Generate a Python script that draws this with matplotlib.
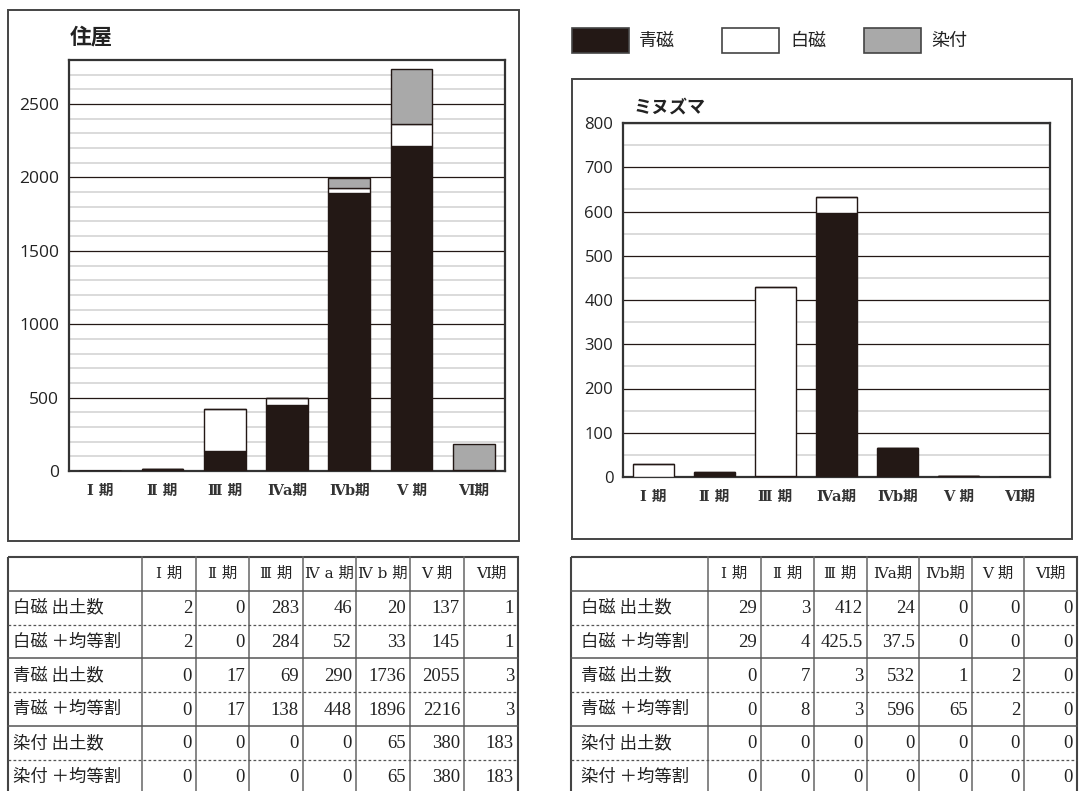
import matplotlib
matplotlib.use('Agg')
import matplotlib.pyplot as plt
from matplotlib.patches import Rectangle
import numpy as np

plt.rcParams['font.family'] = ['Noto Sans CJK JP', 'DejaVu Sans']

# ---------------- data ----------------
chart_period_labels = ['Ⅰ 期', 'Ⅱ 期', 'Ⅲ 期', 'Ⅳa期', 'Ⅳb期', 'Ⅴ 期', 'Ⅵ期']
left_table_headers = ['Ⅰ 期', 'Ⅱ 期', 'Ⅲ 期', 'Ⅳ a 期', 'Ⅳ b 期', 'Ⅴ 期', 'Ⅵ期']
right_table_headers = ['Ⅰ 期', 'Ⅱ 期', 'Ⅲ 期', 'Ⅳa期', 'Ⅳb期', 'Ⅴ 期', 'Ⅵ期']
series_names = ['青磁', '白磁', '染付']
row_labels = ['白磁 出土数', '白磁 ＋均等割', '青磁 出土数', '青磁 ＋均等割', '染付 出土数', '染付 ＋均等割']
left_title = '住屋'
right_title = 'ミヌズマ'

house_white_count = [2, 0, 283, 46, 20, 137, 1]
house_white_eq = [2, 0, 284, 52, 33, 145, 1]
house_celadon_count = [0, 17, 69, 290, 1736, 2055, 3]
house_celadon_eq = [0, 17, 138, 448, 1896, 2216, 3]
house_sometsuke_count = [0, 0, 0, 0, 65, 380, 183]
house_sometsuke_eq = [0, 0, 0, 0, 65, 380, 183]

mizuma_white_count = [29, 3, 412, 24, 0, 0, 0]
mizuma_white_eq = [29, 4, 425.5, 37.5, 0, 0, 0]
mizuma_celadon_count = [0, 7, 3, 532, 1, 2, 0]
mizuma_celadon_eq = [0, 8, 3, 596, 65, 2, 0]
mizuma_sometsuke_count = [0, 0, 0, 0, 0, 0, 0]
mizuma_sometsuke_eq = [0, 0, 0, 0, 0, 0, 0]

# ---------------- style ----------------
W, H = 1088, 791
BLACK = '#231815'
GRAY = '#a9a9a9'
SERIF_CJK = ['DejaVu Serif', 'Noto Sans CJK JP']

fig = plt.figure(figsize=(W / 100, H / 100), dpi=100)
ov = fig.add_axes([0, 0, 1, 1])
ov.set_xlim(0, W)
ov.set_ylim(H, 0)
ov.axis('off')


def fig_axes(l, t, r, b):
    return fig.add_axes([l / W, 1 - b / H, (r - l) / W, (b - t) / H])


def draw_chart(ax, celadon, white, sometsuke, ymax, ytop_tick, major, minor, fs_y):
    x = np.arange(len(chart_period_labels))
    c = np.array(celadon, float)
    w = np.array(white, float)
    s = np.array(sometsuke, float)
    kw = dict(width=0.67, edgecolor=BLACK, linewidth=1.0, zorder=3)
    ax.bar(x, c, color=BLACK, **kw)
    ax.bar(x, w, bottom=c, color='white', **kw)
    ax.bar(x, s, bottom=c + w, color=GRAY, **kw)
    ax.set_xlim(-0.5, len(x) - 0.5)
    ax.set_ylim(0, ymax)
    ax.set_yticks(np.arange(0, ytop_tick + 1, major))
    ax.set_yticks(np.arange(0, ymax + 1, minor), minor=True)
    ax.yaxis.grid(True, which='minor', color='#d4d4d4', linewidth=1.2, zorder=0)
    ax.yaxis.grid(True, which='major', color=BLACK, linewidth=0.9, zorder=1)
    ax.set_axisbelow(True)
    ax.set_xticks(x)
    ax.set_xticklabels(chart_period_labels, fontsize=10.5, fontweight='bold', color='#333333',
                       family=SERIF_CJK)
    for lab in ax.get_yticklabels():
        lab.set_family(['Open Sans', 'DejaVu Sans'])
    ax.tick_params(axis='y', which='both', length=0, labelsize=fs_y, pad=7, colors='#222222')
    ax.tick_params(axis='x', which='both', length=0, pad=9)
    for sp in ax.spines.values():
        sp.set_color('#333333')
        sp.set_linewidth(1.6)


# outer frames
ov.add_patch(Rectangle((7.5, 10), 511, 531, fill=False, edgecolor='#444444', lw=1.4))
ov.add_patch(Rectangle((572, 79), 500, 460, fill=False, edgecolor='#444444', lw=1.4))

# charts
axL = fig_axes(69, 60, 505, 471)
draw_chart(axL, house_celadon_eq, house_white_eq, house_sometsuke_eq, 2800, 2500, 500, 100, 12.5)
axR = fig_axes(623, 123, 1050, 477)
draw_chart(axR, mizuma_celadon_eq, mizuma_white_eq, mizuma_sometsuke_eq, 800, 800, 100, 50, 12)

ov.text(70, 37, left_title, fontsize=15.5, fontweight='bold', va='center', ha='left', color='#222222')
ov.text(633, 107, right_title, fontsize=13, fontweight='bold', va='center', ha='left', color='#222222')

# legend
legend_boxes = [(572, 629, BLACK), (722, 779, 'white'), (864, 921, GRAY)]
legend_text_x = [639, 790, 931]
for (x0, x1, col), tx, name in zip(legend_boxes, legend_text_x, series_names):
    ov.add_patch(Rectangle((x0, 28), x1 - x0, 25, facecolor=col, edgecolor='#444444', lw=1.2))
    ov.text(tx, 41, name, fontsize=13, va='center', ha='left', color='#222222')


def fmt(v):
    return f'{v:g}'


def draw_table(x_edges, top, row_h, headers, values, label_pad):
    n_rows = 1 + len(values)
    bottom = top + row_h * n_rows
    left, right = x_edges[0], x_edges[-1]
    for xe in x_edges[1:-1]:
        ov.plot([xe, xe], [top, bottom], color='#666666', lw=1.1)
    for i in range(1, n_rows):
        y = top + row_h * i
        if i % 2 == 0:
            ov.plot([left, right], [y, y], color='#555555', lw=0.9, ls=(0, (2.2, 1.8)))
        else:
            ov.plot([left, right], [y, y], color='#555555', lw=1.1)
    ov.add_patch(Rectangle((left, top), right - left, bottom - top, fill=False,
                           edgecolor='#444444', lw=1.5))
    yc = top + row_h / 2
    for j, h in enumerate(headers):
        xc = (x_edges[j + 1] + x_edges[j + 2]) / 2
        ov.text(xc, yc, h, fontsize=11, ha='center', va='center', color='#222222',
                family=SERIF_CJK)
    for i, (lab, vals) in enumerate(zip(row_labels, values)):
        yc = top + row_h * (i + 1.5)
        ov.text(left + label_pad, yc, lab, fontsize=12.5, ha='left', va='center', color='#222222')
        for j, v in enumerate(vals):
            ov.text(x_edges[j + 2] - 4, yc + 1, fmt(v), fontsize=13.5, ha='right', va='center',
                    family=['Liberation Serif', 'DejaVu Serif'], color='#222222')


left_edges = [8, 142, 196, 249, 303, 356, 410, 464, 518]
right_edges = [571, 708, 761, 814, 867, 919, 972, 1024, 1077]
draw_table(left_edges, 557, 33.8, left_table_headers,
           [house_white_count, house_white_eq, house_celadon_count, house_celadon_eq,
            house_sometsuke_count, house_sometsuke_eq], 5)
draw_table(right_edges, 557, 33.8, right_table_headers,
           [mizuma_white_count, mizuma_white_eq, mizuma_celadon_count, mizuma_celadon_eq,
            mizuma_sometsuke_count, mizuma_sometsuke_eq], 10)

fig.savefig('out.png', dpi=100)
